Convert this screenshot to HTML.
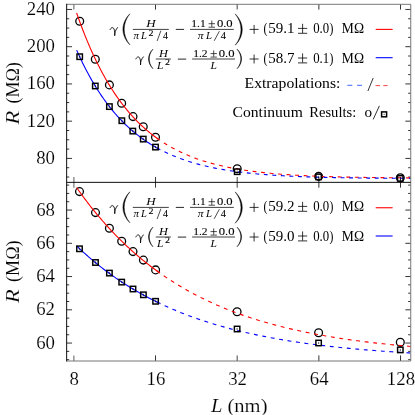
<!DOCTYPE html><html><head><meta charset="utf-8"><title>plot</title><style>html,body{margin:0;padding:0;background:#fff;}svg{display:block;will-change:transform;}text{font-family:"Liberation Serif",serif;fill:#000;stroke:#fff;stroke-width:0.15px;}text[font-size="14.0"]{stroke:none;}text[font-size="9.4"],text[font-size="10.4"]{stroke:none;}text[font-size="9.8"],text[font-size="8.2"]{stroke:#000;stroke-width:0.08px;}.i{font-style:italic;}</style></head><body>
<svg width="415" height="415" viewBox="0 0 415 415">
<rect width="415" height="415" fill="#fff"/>
<g><line x1="66.65" y1="177.03" x2="69.25" y2="177.03" stroke="#000" stroke-width="0.8"/><line x1="410.75" y1="177.03" x2="408.15" y2="177.03" stroke="#000" stroke-width="0.8"/><line x1="66.65" y1="167.72" x2="69.25" y2="167.72" stroke="#000" stroke-width="0.8"/><line x1="410.75" y1="167.72" x2="408.15" y2="167.72" stroke="#000" stroke-width="0.8"/><line x1="66.65" y1="158.41" x2="72.05" y2="158.41" stroke="#000" stroke-width="0.8"/><line x1="410.75" y1="158.41" x2="405.35" y2="158.41" stroke="#000" stroke-width="0.8"/><line x1="66.65" y1="149.10" x2="69.25" y2="149.10" stroke="#000" stroke-width="0.8"/><line x1="410.75" y1="149.10" x2="408.15" y2="149.10" stroke="#000" stroke-width="0.8"/><line x1="66.65" y1="139.79" x2="69.25" y2="139.79" stroke="#000" stroke-width="0.8"/><line x1="410.75" y1="139.79" x2="408.15" y2="139.79" stroke="#000" stroke-width="0.8"/><line x1="66.65" y1="130.48" x2="69.25" y2="130.48" stroke="#000" stroke-width="0.8"/><line x1="410.75" y1="130.48" x2="408.15" y2="130.48" stroke="#000" stroke-width="0.8"/><line x1="66.65" y1="121.17" x2="72.05" y2="121.17" stroke="#000" stroke-width="0.8"/><line x1="410.75" y1="121.17" x2="405.35" y2="121.17" stroke="#000" stroke-width="0.8"/><line x1="66.65" y1="111.86" x2="69.25" y2="111.86" stroke="#000" stroke-width="0.8"/><line x1="410.75" y1="111.86" x2="408.15" y2="111.86" stroke="#000" stroke-width="0.8"/><line x1="66.65" y1="102.55" x2="69.25" y2="102.55" stroke="#000" stroke-width="0.8"/><line x1="410.75" y1="102.55" x2="408.15" y2="102.55" stroke="#000" stroke-width="0.8"/><line x1="66.65" y1="93.24" x2="69.25" y2="93.24" stroke="#000" stroke-width="0.8"/><line x1="410.75" y1="93.24" x2="408.15" y2="93.24" stroke="#000" stroke-width="0.8"/><line x1="66.65" y1="83.93" x2="72.05" y2="83.93" stroke="#000" stroke-width="0.8"/><line x1="410.75" y1="83.93" x2="405.35" y2="83.93" stroke="#000" stroke-width="0.8"/><line x1="66.65" y1="74.62" x2="69.25" y2="74.62" stroke="#000" stroke-width="0.8"/><line x1="410.75" y1="74.62" x2="408.15" y2="74.62" stroke="#000" stroke-width="0.8"/><line x1="66.65" y1="65.31" x2="69.25" y2="65.31" stroke="#000" stroke-width="0.8"/><line x1="410.75" y1="65.31" x2="408.15" y2="65.31" stroke="#000" stroke-width="0.8"/><line x1="66.65" y1="56.00" x2="69.25" y2="56.00" stroke="#000" stroke-width="0.8"/><line x1="410.75" y1="56.00" x2="408.15" y2="56.00" stroke="#000" stroke-width="0.8"/><line x1="66.65" y1="46.69" x2="72.05" y2="46.69" stroke="#000" stroke-width="0.8"/><line x1="410.75" y1="46.69" x2="405.35" y2="46.69" stroke="#000" stroke-width="0.8"/><line x1="66.65" y1="37.38" x2="69.25" y2="37.38" stroke="#000" stroke-width="0.8"/><line x1="410.75" y1="37.38" x2="408.15" y2="37.38" stroke="#000" stroke-width="0.8"/><line x1="66.65" y1="28.07" x2="69.25" y2="28.07" stroke="#000" stroke-width="0.8"/><line x1="410.75" y1="28.07" x2="408.15" y2="28.07" stroke="#000" stroke-width="0.8"/><line x1="66.65" y1="18.76" x2="69.25" y2="18.76" stroke="#000" stroke-width="0.8"/><line x1="410.75" y1="18.76" x2="408.15" y2="18.76" stroke="#000" stroke-width="0.8"/><line x1="66.65" y1="9.45" x2="72.05" y2="9.45" stroke="#000" stroke-width="0.8"/><line x1="410.75" y1="9.45" x2="405.35" y2="9.45" stroke="#000" stroke-width="0.8"/><line x1="66.65" y1="359.68" x2="69.25" y2="359.68" stroke="#000" stroke-width="0.8"/><line x1="410.75" y1="359.68" x2="408.15" y2="359.68" stroke="#000" stroke-width="0.8"/><line x1="66.65" y1="351.36" x2="69.25" y2="351.36" stroke="#000" stroke-width="0.8"/><line x1="410.75" y1="351.36" x2="408.15" y2="351.36" stroke="#000" stroke-width="0.8"/><line x1="66.65" y1="343.05" x2="72.05" y2="343.05" stroke="#000" stroke-width="0.8"/><line x1="410.75" y1="343.05" x2="405.35" y2="343.05" stroke="#000" stroke-width="0.8"/><line x1="66.65" y1="334.74" x2="69.25" y2="334.74" stroke="#000" stroke-width="0.8"/><line x1="410.75" y1="334.74" x2="408.15" y2="334.74" stroke="#000" stroke-width="0.8"/><line x1="66.65" y1="326.43" x2="69.25" y2="326.43" stroke="#000" stroke-width="0.8"/><line x1="410.75" y1="326.43" x2="408.15" y2="326.43" stroke="#000" stroke-width="0.8"/><line x1="66.65" y1="318.11" x2="69.25" y2="318.11" stroke="#000" stroke-width="0.8"/><line x1="410.75" y1="318.11" x2="408.15" y2="318.11" stroke="#000" stroke-width="0.8"/><line x1="66.65" y1="309.80" x2="72.05" y2="309.80" stroke="#000" stroke-width="0.8"/><line x1="410.75" y1="309.80" x2="405.35" y2="309.80" stroke="#000" stroke-width="0.8"/><line x1="66.65" y1="301.49" x2="69.25" y2="301.49" stroke="#000" stroke-width="0.8"/><line x1="410.75" y1="301.49" x2="408.15" y2="301.49" stroke="#000" stroke-width="0.8"/><line x1="66.65" y1="293.18" x2="69.25" y2="293.18" stroke="#000" stroke-width="0.8"/><line x1="410.75" y1="293.18" x2="408.15" y2="293.18" stroke="#000" stroke-width="0.8"/><line x1="66.65" y1="284.86" x2="69.25" y2="284.86" stroke="#000" stroke-width="0.8"/><line x1="410.75" y1="284.86" x2="408.15" y2="284.86" stroke="#000" stroke-width="0.8"/><line x1="66.65" y1="276.55" x2="72.05" y2="276.55" stroke="#000" stroke-width="0.8"/><line x1="410.75" y1="276.55" x2="405.35" y2="276.55" stroke="#000" stroke-width="0.8"/><line x1="66.65" y1="268.24" x2="69.25" y2="268.24" stroke="#000" stroke-width="0.8"/><line x1="410.75" y1="268.24" x2="408.15" y2="268.24" stroke="#000" stroke-width="0.8"/><line x1="66.65" y1="259.93" x2="69.25" y2="259.93" stroke="#000" stroke-width="0.8"/><line x1="410.75" y1="259.93" x2="408.15" y2="259.93" stroke="#000" stroke-width="0.8"/><line x1="66.65" y1="251.61" x2="69.25" y2="251.61" stroke="#000" stroke-width="0.8"/><line x1="410.75" y1="251.61" x2="408.15" y2="251.61" stroke="#000" stroke-width="0.8"/><line x1="66.65" y1="243.30" x2="72.05" y2="243.30" stroke="#000" stroke-width="0.8"/><line x1="410.75" y1="243.30" x2="405.35" y2="243.30" stroke="#000" stroke-width="0.8"/><line x1="66.65" y1="234.99" x2="69.25" y2="234.99" stroke="#000" stroke-width="0.8"/><line x1="410.75" y1="234.99" x2="408.15" y2="234.99" stroke="#000" stroke-width="0.8"/><line x1="66.65" y1="226.68" x2="69.25" y2="226.68" stroke="#000" stroke-width="0.8"/><line x1="410.75" y1="226.68" x2="408.15" y2="226.68" stroke="#000" stroke-width="0.8"/><line x1="66.65" y1="218.36" x2="69.25" y2="218.36" stroke="#000" stroke-width="0.8"/><line x1="410.75" y1="218.36" x2="408.15" y2="218.36" stroke="#000" stroke-width="0.8"/><line x1="66.65" y1="210.05" x2="72.05" y2="210.05" stroke="#000" stroke-width="0.8"/><line x1="410.75" y1="210.05" x2="405.35" y2="210.05" stroke="#000" stroke-width="0.8"/><line x1="66.65" y1="201.74" x2="69.25" y2="201.74" stroke="#000" stroke-width="0.8"/><line x1="410.75" y1="201.74" x2="408.15" y2="201.74" stroke="#000" stroke-width="0.8"/><line x1="66.65" y1="193.43" x2="69.25" y2="193.43" stroke="#000" stroke-width="0.8"/><line x1="410.75" y1="193.43" x2="408.15" y2="193.43" stroke="#000" stroke-width="0.8"/><line x1="66.65" y1="185.11" x2="69.25" y2="185.11" stroke="#000" stroke-width="0.8"/><line x1="410.75" y1="185.11" x2="408.15" y2="185.11" stroke="#000" stroke-width="0.8"/><line x1="73.85" y1="4.30" x2="73.85" y2="9.60" stroke="#999" stroke-width="1.6"/><line x1="73.85" y1="177.05" x2="73.85" y2="187.65" stroke="#999" stroke-width="1.6"/><line x1="73.85" y1="361.00" x2="73.85" y2="355.40" stroke="#999" stroke-width="1.6"/><line x1="155.52" y1="4.30" x2="155.52" y2="9.60" stroke="#000" stroke-width="0.8"/><line x1="155.52" y1="177.05" x2="155.52" y2="187.65" stroke="#000" stroke-width="0.8"/><line x1="155.52" y1="361.00" x2="155.52" y2="355.40" stroke="#000" stroke-width="0.8"/><line x1="237.19" y1="4.30" x2="237.19" y2="9.60" stroke="#555" stroke-width="1.1"/><line x1="237.19" y1="177.05" x2="237.19" y2="187.65" stroke="#555" stroke-width="1.1"/><line x1="237.19" y1="361.00" x2="237.19" y2="355.40" stroke="#555" stroke-width="1.1"/><line x1="318.86" y1="4.30" x2="318.86" y2="9.60" stroke="#000" stroke-width="0.8"/><line x1="318.86" y1="177.05" x2="318.86" y2="187.65" stroke="#000" stroke-width="0.8"/><line x1="318.86" y1="361.00" x2="318.86" y2="355.40" stroke="#000" stroke-width="0.8"/><line x1="400.53" y1="4.30" x2="400.53" y2="9.60" stroke="#000" stroke-width="0.8"/><line x1="400.53" y1="177.05" x2="400.53" y2="187.65" stroke="#000" stroke-width="0.8"/><line x1="400.53" y1="361.00" x2="400.53" y2="355.40" stroke="#000" stroke-width="0.8"/></g>
<clipPath id="ct"><rect x="66.65" y="4.3" width="344.1" height="178.04999999999998"/></clipPath>
<clipPath id="cb"><rect x="66.65" y="182.35" width="344.1" height="178.65"/></clipPath>
<circle cx="79.7" cy="21.3" r="3.9" fill="none" stroke="#000" stroke-width="1.3"/>
<circle cx="95.3" cy="59.2" r="3.9" fill="none" stroke="#000" stroke-width="1.3"/>
<circle cx="109.4" cy="84.9" r="3.9" fill="none" stroke="#000" stroke-width="1.3"/>
<circle cx="121.65" cy="103.2" r="3.9" fill="none" stroke="#000" stroke-width="1.3"/>
<circle cx="133.0" cy="116.6" r="3.9" fill="none" stroke="#000" stroke-width="1.3"/>
<circle cx="143.25" cy="126.8" r="3.9" fill="none" stroke="#000" stroke-width="1.3"/>
<circle cx="155.5" cy="137.3" r="3.9" fill="none" stroke="#000" stroke-width="1.3"/>
<circle cx="237.2" cy="168.8" r="3.9" fill="none" stroke="#000" stroke-width="1.3"/>
<circle cx="318.6" cy="176.4" r="3.9" fill="none" stroke="#000" stroke-width="1.3"/>
<circle cx="400.3" cy="177.8" r="3.9" fill="none" stroke="#000" stroke-width="1.3"/>
<circle cx="79.5" cy="191.6" r="3.9" fill="none" stroke="#000" stroke-width="1.3"/>
<circle cx="95.5" cy="212.6" r="3.9" fill="none" stroke="#000" stroke-width="1.3"/>
<circle cx="109.4" cy="228.3" r="3.9" fill="none" stroke="#000" stroke-width="1.3"/>
<circle cx="121.7" cy="241.3" r="3.9" fill="none" stroke="#000" stroke-width="1.3"/>
<circle cx="133.0" cy="251.6" r="3.9" fill="none" stroke="#000" stroke-width="1.3"/>
<circle cx="143.4" cy="260.1" r="3.9" fill="none" stroke="#000" stroke-width="1.3"/>
<circle cx="155.6" cy="269.9" r="3.9" fill="none" stroke="#000" stroke-width="1.3"/>
<circle cx="237.1" cy="311.7" r="3.9" fill="none" stroke="#000" stroke-width="1.3"/>
<circle cx="318.6" cy="332.8" r="3.9" fill="none" stroke="#000" stroke-width="1.3"/>
<circle cx="400.3" cy="342.3" r="3.9" fill="none" stroke="#000" stroke-width="1.3"/>
<path d="M76.62,12.98 L77.63,15.89 L78.65,18.75 L79.67,21.56 L80.69,24.32 L81.71,27.03 L82.72,29.70 L83.74,32.32 L84.76,34.89 L85.78,37.42 L86.80,39.90 L87.82,42.35 L88.83,44.74 L89.85,47.10 L90.87,49.42 L91.89,51.70 L92.91,53.93 L93.92,56.13 L94.94,58.29 L95.96,60.41 L96.98,62.49 L98.00,64.54 L99.02,66.56 L100.03,68.53 L101.05,70.48 L102.07,72.39 L103.09,74.26 L104.11,76.10 L105.12,77.92 L106.14,79.70 L107.16,81.44 L108.18,83.16 L109.20,84.85 L110.22,86.51 L111.23,88.14 L112.25,89.74 L113.27,91.31 L114.29,92.86 L115.31,94.37 L116.32,95.87 L117.34,97.33 L118.36,98.77 L119.38,100.19 L120.40,101.58 L121.42,102.94 L122.43,104.28 L123.45,105.60 L124.47,106.90 L125.49,108.17 L126.51,109.42 L127.52,110.65 L128.54,111.86 L129.56,113.04 L130.58,114.21 L131.60,115.35 L132.62,116.48 L133.63,117.58 L134.65,118.67 L135.67,119.73 L136.69,120.78 L137.71,121.81 L138.72,122.82 L139.74,123.81 L140.76,124.79 L141.78,125.75 L142.80,126.69 L143.82,127.62 L144.83,128.53 L145.85,129.42 L146.87,130.30 L147.89,131.16 L148.91,132.00 L149.92,132.84 L150.94,133.65 L151.96,134.46 L152.98,135.24 L154.00,136.02 L155.02,136.78 L156.03,137.53 L157.05,138.26 L158.07,138.98" fill="none" stroke="#ff0000" stroke-width="1.1" clip-path="url(#ct)"/>
<path d="M155.52,137.15 L157.65,138.69 L159.77,140.16 L161.90,141.59 L164.03,142.96 L166.15,144.28 L168.28,145.55 L170.41,146.78 L172.54,147.96 L174.66,149.10 L176.79,150.19 L178.92,151.25 L181.04,152.27 L183.17,153.25 L185.30,154.19 L187.42,155.10 L189.55,155.98 L191.68,156.82 L193.80,157.63 L195.93,158.41 L198.06,159.17 L200.19,159.89 L202.31,160.59 L204.44,161.27 L206.57,161.91 L208.69,162.54 L210.82,163.14 L212.95,163.72 L215.07,164.27 L217.20,164.81 L219.33,165.33 L221.45,165.82 L223.58,166.30 L225.71,166.76 L227.84,167.20 L229.96,167.63 L232.09,168.04 L234.22,168.44 L236.34,168.82 L238.47,169.18 L240.60,169.54 L242.72,169.87 L244.85,170.20 L246.98,170.51 L249.10,170.82 L251.23,171.11 L253.36,171.39 L255.49,171.66 L257.61,171.91 L259.74,172.16 L261.87,172.40 L263.99,172.63 L266.12,172.85 L268.25,173.07 L270.37,173.27 L272.50,173.47 L274.63,173.66 L276.75,173.84 L278.88,174.01 L281.01,174.18 L283.13,174.34 L285.26,174.50 L287.39,174.65 L289.52,174.79 L291.64,174.93 L293.77,175.06 L295.90,175.19 L298.02,175.31 L300.15,175.43 L302.28,175.54 L304.40,175.65 L306.53,175.75 L308.66,175.85 L310.78,175.95 L312.91,176.04 L315.04,176.13 L317.17,176.21 L319.29,176.30 L321.42,176.37 L323.55,176.45 L325.67,176.52 L327.80,176.59 L329.93,176.66 L332.05,176.72 L334.18,176.78 L336.31,176.84 L338.43,176.89 L340.56,176.95 L342.69,177.00 L344.82,177.05 L346.94,177.09 L349.07,177.14 L351.20,177.18 L353.32,177.22 L355.45,177.26 L357.58,177.30 L359.70,177.34 L361.83,177.37 L363.96,177.41 L366.08,177.44 L368.21,177.47 L370.34,177.50 L372.47,177.52 L374.59,177.55 L376.72,177.58 L378.85,177.60 L380.97,177.62 L383.10,177.64 L385.23,177.67 L387.35,177.69 L389.48,177.70 L391.61,177.72 L393.73,177.74 L395.86,177.76 L397.99,177.77 L400.12,177.79 L402.24,177.80 L404.37,177.81 L406.50,177.83 L408.62,177.84 L410.75,177.85" fill="none" stroke="#ff0000" stroke-width="1.1" stroke-dasharray="3.9 4.64" stroke-dashoffset="-1.6" clip-path="url(#ct)"/>
<path d="M76.62,50.11 L77.63,52.39 L78.65,54.63 L79.67,56.83 L80.69,58.99 L81.71,61.11 L82.72,63.20 L83.74,65.25 L84.76,67.26 L85.78,69.24 L86.80,71.18 L87.82,73.09 L88.83,74.97 L89.85,76.81 L90.87,78.63 L91.89,80.41 L92.91,82.15 L93.92,83.87 L94.94,85.56 L95.96,87.22 L96.98,88.85 L98.00,90.45 L99.02,92.02 L100.03,93.57 L101.05,95.09 L102.07,96.58 L103.09,98.04 L104.11,99.48 L105.12,100.90 L106.14,102.29 L107.16,103.66 L108.18,105.00 L109.20,106.31 L110.22,107.61 L111.23,108.88 L112.25,110.13 L113.27,111.36 L114.29,112.57 L115.31,113.75 L116.32,114.92 L117.34,116.06 L118.36,117.18 L119.38,118.29 L120.40,119.37 L121.42,120.44 L122.43,121.48 L123.45,122.51 L124.47,123.52 L125.49,124.52 L126.51,125.49 L127.52,126.45 L128.54,127.39 L129.56,128.31 L130.58,129.22 L131.60,130.11 L132.62,130.99 L133.63,131.85 L134.65,132.70 L135.67,133.53 L136.69,134.34 L137.71,135.15 L138.72,135.93 L139.74,136.71 L140.76,137.47 L141.78,138.21 L142.80,138.95 L143.82,139.67 L144.83,140.37 L145.85,141.07 L146.87,141.75 L147.89,142.42 L148.91,143.08 L149.92,143.73 L150.94,144.36 L151.96,144.99 L152.98,145.60 L154.00,146.20 L155.02,146.80 L156.03,147.38 L157.05,147.95 L158.07,148.51" fill="none" stroke="#0000ff" stroke-width="1.1" clip-path="url(#ct)"/>
<path d="M155.52,147.09 L157.65,148.28 L159.77,149.43 L161.90,150.53 L164.03,151.60 L166.15,152.62 L168.28,153.61 L170.41,154.56 L172.54,155.48 L174.66,156.36 L176.79,157.21 L178.92,158.03 L181.04,158.82 L183.17,159.57 L185.30,160.31 L187.42,161.01 L189.55,161.69 L191.68,162.34 L193.80,162.97 L195.93,163.57 L198.06,164.15 L200.19,164.71 L202.31,165.25 L204.44,165.77 L206.57,166.27 L208.69,166.75 L210.82,167.21 L212.95,167.66 L215.07,168.09 L217.20,168.50 L219.33,168.90 L221.45,169.28 L223.58,169.65 L225.71,170.00 L227.84,170.34 L229.96,170.67 L232.09,170.98 L234.22,171.29 L236.34,171.58 L238.47,171.86 L240.60,172.13 L242.72,172.38 L244.85,172.63 L246.98,172.87 L249.10,173.10 L251.23,173.33 L253.36,173.54 L255.49,173.74 L257.61,173.94 L259.74,174.13 L261.87,174.31 L263.99,174.48 L266.12,174.65 L268.25,174.81 L270.37,174.97 L272.50,175.12 L274.63,175.26 L276.75,175.40 L278.88,175.53 L281.01,175.66 L283.13,175.78 L285.26,175.89 L287.39,176.01 L289.52,176.11 L291.64,176.22 L293.77,176.32 L295.90,176.41 L298.02,176.50 L300.15,176.59 L302.28,176.67 L304.40,176.76 L306.53,176.83 L308.66,176.91 L310.78,176.98 L312.91,177.05 L315.04,177.11 L317.17,177.17 L319.29,177.23 L321.42,177.29 L323.55,177.35 L325.67,177.40 L327.80,177.45 L329.93,177.50 L332.05,177.54 L334.18,177.59 L336.31,177.63 L338.43,177.67 L340.56,177.71 L342.69,177.75 L344.82,177.78 L346.94,177.81 L349.07,177.85 L351.20,177.88 L353.32,177.91 L355.45,177.93 L357.58,177.96 L359.70,177.99 L361.83,178.01 L363.96,178.03 L366.08,178.06 L368.21,178.08 L370.34,178.10 L372.47,178.12 L374.59,178.14 L376.72,178.15 L378.85,178.17 L380.97,178.18 L383.10,178.20 L385.23,178.21 L387.35,178.23 L389.48,178.24 L391.61,178.25 L393.73,178.26 L395.86,178.27 L397.99,178.28 L400.12,178.29 L402.24,178.30 L404.37,178.31 L406.50,178.32 L408.62,178.33 L410.75,178.33" fill="none" stroke="#0000ff" stroke-width="1.1" stroke-dasharray="3.9 4.64" stroke-dashoffset="-1.6" clip-path="url(#ct)"/>
<path d="M76.62,187.57 L77.63,189.02 L78.65,190.46 L79.67,191.89 L80.69,193.30 L81.71,194.70 L82.72,196.09 L83.74,197.47 L84.76,198.84 L85.78,200.19 L86.80,201.53 L87.82,202.86 L88.83,204.18 L89.85,205.49 L90.87,206.79 L91.89,208.07 L92.91,209.35 L93.92,210.61 L94.94,211.87 L95.96,213.11 L96.98,214.34 L98.00,215.56 L99.02,216.77 L100.03,217.97 L101.05,219.16 L102.07,220.34 L103.09,221.51 L104.11,222.67 L105.12,223.82 L106.14,224.96 L107.16,226.09 L108.18,227.21 L109.20,228.32 L110.22,229.42 L111.23,230.51 L112.25,231.60 L113.27,232.67 L114.29,233.73 L115.31,234.79 L116.32,235.83 L117.34,236.87 L118.36,237.90 L119.38,238.91 L120.40,239.92 L121.42,240.93 L122.43,241.92 L123.45,242.90 L124.47,243.88 L125.49,244.85 L126.51,245.80 L127.52,246.75 L128.54,247.70 L129.56,248.63 L130.58,249.56 L131.60,250.48 L132.62,251.39 L133.63,252.29 L134.65,253.18 L135.67,254.07 L136.69,254.95 L137.71,255.82 L138.72,256.69 L139.74,257.55 L140.76,258.39 L141.78,259.24 L142.80,260.07 L143.82,260.90 L144.83,261.72 L145.85,262.54 L146.87,263.34 L147.89,264.14 L148.91,264.94 L149.92,265.72 L150.94,266.50 L151.96,267.27 L152.98,268.04 L154.00,268.80 L155.02,269.55 L156.03,270.30 L157.05,271.04 L158.07,271.77" fill="none" stroke="#ff0000" stroke-width="1.1" clip-path="url(#cb)"/>
<path d="M155.52,269.92 L157.65,271.47 L159.77,272.99 L161.90,274.48 L164.03,275.94 L166.15,277.38 L168.28,278.79 L170.41,280.18 L172.54,281.54 L174.66,282.88 L176.79,284.19 L178.92,285.48 L181.04,286.75 L183.17,288.00 L185.30,289.22 L187.42,290.42 L189.55,291.60 L191.68,292.76 L193.80,293.89 L195.93,295.01 L198.06,296.11 L200.19,297.18 L202.31,298.24 L204.44,299.28 L206.57,300.30 L208.69,301.31 L210.82,302.29 L212.95,303.26 L215.07,304.21 L217.20,305.14 L219.33,306.05 L221.45,306.95 L223.58,307.84 L225.71,308.71 L227.84,309.56 L229.96,310.39 L232.09,311.22 L234.22,312.02 L236.34,312.82 L238.47,313.60 L240.60,314.36 L242.72,315.11 L244.85,315.85 L246.98,316.57 L249.10,317.28 L251.23,317.98 L253.36,318.67 L255.49,319.34 L257.61,320.01 L259.74,320.66 L261.87,321.29 L263.99,321.92 L266.12,322.54 L268.25,323.14 L270.37,323.74 L272.50,324.32 L274.63,324.89 L276.75,325.45 L278.88,326.01 L281.01,326.55 L283.13,327.08 L285.26,327.61 L287.39,328.12 L289.52,328.63 L291.64,329.12 L293.77,329.61 L295.90,330.09 L298.02,330.56 L300.15,331.02 L302.28,331.47 L304.40,331.92 L306.53,332.35 L308.66,332.78 L310.78,333.20 L312.91,333.62 L315.04,334.02 L317.17,334.42 L319.29,334.82 L321.42,335.20 L323.55,335.58 L325.67,335.95 L327.80,336.32 L329.93,336.67 L332.05,337.03 L334.18,337.37 L336.31,337.71 L338.43,338.04 L340.56,338.37 L342.69,338.69 L344.82,339.01 L346.94,339.32 L349.07,339.62 L351.20,339.92 L353.32,340.22 L355.45,340.51 L357.58,340.79 L359.70,341.07 L361.83,341.34 L363.96,341.61 L366.08,341.87 L368.21,342.13 L370.34,342.39 L372.47,342.64 L374.59,342.88 L376.72,343.12 L378.85,343.36 L380.97,343.59 L383.10,343.82 L385.23,344.04 L387.35,344.26 L389.48,344.48 L391.61,344.69 L393.73,344.90 L395.86,345.11 L397.99,345.31 L400.12,345.50 L402.24,345.70 L404.37,345.89 L406.50,346.08 L408.62,346.26 L410.75,346.44" fill="none" stroke="#ff0000" stroke-width="1.1" stroke-dasharray="3.9 4.64" stroke-dashoffset="-1.6" clip-path="url(#cb)"/>
<path d="M76.62,245.90 L77.63,246.87 L78.65,247.84 L79.67,248.79 L80.69,249.74 L81.71,250.68 L82.72,251.62 L83.74,252.54 L84.76,253.46 L85.78,254.37 L86.80,255.27 L87.82,256.17 L88.83,257.05 L89.85,257.93 L90.87,258.81 L91.89,259.67 L92.91,260.53 L93.92,261.38 L94.94,262.22 L95.96,263.05 L96.98,263.88 L98.00,264.70 L99.02,265.52 L100.03,266.32 L101.05,267.12 L102.07,267.92 L103.09,268.70 L104.11,269.48 L105.12,270.26 L106.14,271.02 L107.16,271.78 L108.18,272.54 L109.20,273.28 L110.22,274.02 L111.23,274.76 L112.25,275.49 L113.27,276.21 L114.29,276.92 L115.31,277.63 L116.32,278.34 L117.34,279.03 L118.36,279.73 L119.38,280.41 L120.40,281.09 L121.42,281.76 L122.43,282.43 L123.45,283.10 L124.47,283.75 L125.49,284.40 L126.51,285.05 L127.52,285.69 L128.54,286.32 L129.56,286.95 L130.58,287.58 L131.60,288.20 L132.62,288.81 L133.63,289.42 L134.65,290.02 L135.67,290.62 L136.69,291.21 L137.71,291.80 L138.72,292.38 L139.74,292.96 L140.76,293.53 L141.78,294.10 L142.80,294.66 L143.82,295.22 L144.83,295.77 L145.85,296.32 L146.87,296.86 L147.89,297.40 L148.91,297.94 L149.92,298.47 L150.94,298.99 L151.96,299.51 L152.98,300.03 L154.00,300.54 L155.02,301.05 L156.03,301.55 L157.05,302.05 L158.07,302.54" fill="none" stroke="#0000ff" stroke-width="1.1" clip-path="url(#cb)"/>
<path d="M155.52,301.30 L157.65,302.34 L159.77,303.36 L161.90,304.37 L164.03,305.36 L166.15,306.32 L168.28,307.28 L170.41,308.21 L172.54,309.13 L174.66,310.03 L176.79,310.92 L178.92,311.79 L181.04,312.65 L183.17,313.48 L185.30,314.31 L187.42,315.12 L189.55,315.92 L191.68,316.70 L193.80,317.46 L195.93,318.22 L198.06,318.96 L200.19,319.69 L202.31,320.40 L204.44,321.10 L206.57,321.79 L208.69,322.47 L210.82,323.13 L212.95,323.78 L215.07,324.43 L217.20,325.06 L219.33,325.67 L221.45,326.28 L223.58,326.88 L225.71,327.46 L227.84,328.04 L229.96,328.60 L232.09,329.16 L234.22,329.70 L236.34,330.24 L238.47,330.77 L240.60,331.28 L242.72,331.79 L244.85,332.29 L246.98,332.78 L249.10,333.26 L251.23,333.73 L253.36,334.19 L255.49,334.65 L257.61,335.10 L259.74,335.54 L261.87,335.97 L263.99,336.39 L266.12,336.81 L268.25,337.22 L270.37,337.62 L272.50,338.01 L274.63,338.40 L276.75,338.78 L278.88,339.15 L281.01,339.52 L283.13,339.88 L285.26,340.23 L287.39,340.58 L289.52,340.92 L291.64,341.26 L293.77,341.59 L295.90,341.91 L298.02,342.23 L300.15,342.54 L302.28,342.85 L304.40,343.15 L306.53,343.44 L308.66,343.73 L310.78,344.02 L312.91,344.30 L315.04,344.57 L317.17,344.84 L319.29,345.11 L321.42,345.37 L323.55,345.62 L325.67,345.87 L327.80,346.12 L329.93,346.36 L332.05,346.60 L334.18,346.84 L336.31,347.07 L338.43,347.29 L340.56,347.51 L342.69,347.73 L344.82,347.94 L346.94,348.15 L349.07,348.36 L351.20,348.56 L353.32,348.76 L355.45,348.96 L357.58,349.15 L359.70,349.34 L361.83,349.52 L363.96,349.70 L366.08,349.88 L368.21,350.06 L370.34,350.23 L372.47,350.40 L374.59,350.56 L376.72,350.73 L378.85,350.89 L380.97,351.04 L383.10,351.20 L385.23,351.35 L387.35,351.50 L389.48,351.64 L391.61,351.79 L393.73,351.93 L395.86,352.07 L397.99,352.20 L400.12,352.34 L402.24,352.47 L404.37,352.60 L406.50,352.72 L408.62,352.85 L410.75,352.97" fill="none" stroke="#0000ff" stroke-width="1.1" stroke-dasharray="3.9 4.64" stroke-dashoffset="-1.6" clip-path="url(#cb)"/>
<rect x="76.98" y="53.98" width="5.44" height="5.44" fill="none" stroke="#000" stroke-width="1.45"/>
<rect x="79.10" y="55.60" width="1.2" height="2.2" fill="#000" fill-opacity="0.55"/>
<rect x="92.58" y="83.28" width="5.44" height="5.44" fill="none" stroke="#000" stroke-width="1.45"/>
<rect x="94.70" y="84.90" width="1.2" height="2.2" fill="#000" fill-opacity="0.55"/>
<rect x="106.68" y="103.88" width="5.44" height="5.44" fill="none" stroke="#000" stroke-width="1.45"/>
<rect x="108.80" y="105.50" width="1.2" height="2.2" fill="#000" fill-opacity="0.55"/>
<rect x="119.13" y="117.98" width="5.44" height="5.44" fill="none" stroke="#000" stroke-width="1.45"/>
<rect x="121.25" y="119.60" width="1.2" height="2.2" fill="#000" fill-opacity="0.55"/>
<rect x="130.08" y="128.38" width="5.44" height="5.44" fill="none" stroke="#000" stroke-width="1.45"/>
<rect x="132.20" y="130.00" width="1.2" height="2.2" fill="#000" fill-opacity="0.55"/>
<rect x="140.53" y="136.38" width="5.44" height="5.44" fill="none" stroke="#000" stroke-width="1.45"/>
<rect x="142.65" y="138.00" width="1.2" height="2.2" fill="#000" fill-opacity="0.55"/>
<rect x="152.78" y="144.38" width="5.44" height="5.44" fill="none" stroke="#000" stroke-width="1.45"/>
<rect x="154.90" y="146.00" width="1.2" height="2.2" fill="#000" fill-opacity="0.55"/>
<rect x="234.48" y="168.98" width="5.44" height="5.44" fill="none" stroke="#000" stroke-width="1.45"/>
<rect x="236.60" y="170.60" width="1.2" height="2.2" fill="#000" fill-opacity="0.55"/>
<rect x="315.88" y="174.18" width="5.44" height="5.44" fill="none" stroke="#000" stroke-width="1.45"/>
<rect x="318.00" y="175.80" width="1.2" height="2.2" fill="#000" fill-opacity="0.55"/>
<rect x="397.58" y="175.68" width="5.44" height="5.44" fill="none" stroke="#000" stroke-width="1.45"/>
<rect x="399.70" y="177.30" width="1.2" height="2.2" fill="#000" fill-opacity="0.55"/>
<rect x="76.78" y="246.08" width="5.44" height="5.44" fill="none" stroke="#000" stroke-width="1.45"/>
<rect x="78.90" y="247.70" width="1.2" height="2.2" fill="#000" fill-opacity="0.55"/>
<rect x="92.78" y="259.78" width="5.44" height="5.44" fill="none" stroke="#000" stroke-width="1.45"/>
<rect x="94.90" y="261.40" width="1.2" height="2.2" fill="#000" fill-opacity="0.55"/>
<rect x="106.68" y="270.38" width="5.44" height="5.44" fill="none" stroke="#000" stroke-width="1.45"/>
<rect x="108.80" y="272.00" width="1.2" height="2.2" fill="#000" fill-opacity="0.55"/>
<rect x="118.98" y="279.38" width="5.44" height="5.44" fill="none" stroke="#000" stroke-width="1.45"/>
<rect x="121.10" y="281.00" width="1.2" height="2.2" fill="#000" fill-opacity="0.55"/>
<rect x="130.28" y="286.28" width="5.44" height="5.44" fill="none" stroke="#000" stroke-width="1.45"/>
<rect x="132.40" y="287.90" width="1.2" height="2.2" fill="#000" fill-opacity="0.55"/>
<rect x="140.68" y="292.08" width="5.44" height="5.44" fill="none" stroke="#000" stroke-width="1.45"/>
<rect x="142.80" y="293.70" width="1.2" height="2.2" fill="#000" fill-opacity="0.55"/>
<rect x="152.88" y="298.58" width="5.44" height="5.44" fill="none" stroke="#000" stroke-width="1.45"/>
<rect x="155.00" y="300.20" width="1.2" height="2.2" fill="#000" fill-opacity="0.55"/>
<rect x="234.38" y="326.28" width="5.44" height="5.44" fill="none" stroke="#000" stroke-width="1.45"/>
<rect x="236.50" y="327.90" width="1.2" height="2.2" fill="#000" fill-opacity="0.55"/>
<rect x="315.88" y="340.28" width="5.44" height="5.44" fill="none" stroke="#000" stroke-width="1.45"/>
<rect x="318.00" y="341.90" width="1.2" height="2.2" fill="#000" fill-opacity="0.55"/>
<rect x="397.58" y="347.18" width="5.44" height="5.44" fill="none" stroke="#000" stroke-width="1.45"/>
<rect x="399.70" y="348.80" width="1.2" height="2.2" fill="#000" fill-opacity="0.55"/>
<path d="M66.65,4.3 H410.75 V361.0 H66.65" fill="none" stroke="#777" stroke-width="1"/>
<path d="M66.65,3.8 V361.5" fill="none" stroke="#000" stroke-width="0.95"/>
<path d="M66.65,182.35 H410.75" fill="none" stroke="#000" stroke-width="0.95"/>
<text x="55.00" y="14.95" font-size="19.8" text-anchor="end" textLength="28.2" lengthAdjust="spacingAndGlyphs">240</text>
<text x="55.00" y="52.19" font-size="19.8" text-anchor="end" textLength="28.2" lengthAdjust="spacingAndGlyphs">200</text>
<text x="55.00" y="89.43" font-size="19.8" text-anchor="end" textLength="28.2" lengthAdjust="spacingAndGlyphs">160</text>
<text x="55.00" y="126.67" font-size="19.8" text-anchor="end" textLength="28.2" lengthAdjust="spacingAndGlyphs">120</text>
<text x="55.00" y="163.91" font-size="19.8" text-anchor="end" textLength="18.8" lengthAdjust="spacingAndGlyphs">80</text>
<text x="55.00" y="215.55" font-size="19.8" text-anchor="end" textLength="18.8" lengthAdjust="spacingAndGlyphs">68</text>
<text x="55.00" y="248.80" font-size="19.8" text-anchor="end" textLength="18.8" lengthAdjust="spacingAndGlyphs">66</text>
<text x="55.00" y="282.05" font-size="19.8" text-anchor="end" textLength="18.8" lengthAdjust="spacingAndGlyphs">64</text>
<text x="55.00" y="315.30" font-size="19.8" text-anchor="end" textLength="18.8" lengthAdjust="spacingAndGlyphs">62</text>
<text x="55.00" y="348.55" font-size="19.8" text-anchor="end" textLength="18.8" lengthAdjust="spacingAndGlyphs">60</text>
<text x="74.25" y="384.60" font-size="19.8" text-anchor="middle" textLength="9.4" lengthAdjust="spacingAndGlyphs">8</text>
<text x="155.92" y="384.60" font-size="19.8" text-anchor="middle" textLength="18.8" lengthAdjust="spacingAndGlyphs">16</text>
<text x="237.59" y="384.60" font-size="19.8" text-anchor="middle" textLength="18.8" lengthAdjust="spacingAndGlyphs">32</text>
<text x="319.26" y="384.60" font-size="19.8" text-anchor="middle" textLength="18.8" lengthAdjust="spacingAndGlyphs">64</text>
<text x="400.93" y="384.60" font-size="19.8" text-anchor="middle" textLength="28.2" lengthAdjust="spacingAndGlyphs">128</text>
<text x="210.9" y="412.2" font-size="19.8" textLength="56.6" lengthAdjust="spacingAndGlyphs"><tspan class="i">L</tspan> (nm)</text>
<text transform="translate(18.5,124.62) rotate(-90)" font-size="19.6" textLength="13.6" lengthAdjust="spacingAndGlyphs" class="i">R</text>
<text transform="translate(18.5,103.53) rotate(-90)" font-size="19.6" textLength="41.4" lengthAdjust="spacingAndGlyphs">(MΩ)</text>
<text transform="translate(18.5,302.98) rotate(-90)" font-size="19.6" textLength="13.6" lengthAdjust="spacingAndGlyphs" class="i">R</text>
<text transform="translate(18.5,281.88) rotate(-90)" font-size="19.6" textLength="41.4" lengthAdjust="spacingAndGlyphs">(MΩ)</text>
<path transform="translate(110.10,33.20) scale(1.0)" d="M0.0,-3.6 C0.8,-5.6 2.9,-6.6 3.9,-4.2 C4.7,-2.2 4.9,0.3 4.6,2.5 C4.5,0.8 4.7,-0.5 5.2,-1.8 C5.9,-3.4 6.6,-4.7 7.4,-5.6" fill="none" stroke="#000" stroke-width="0.9" stroke-linecap="round" stroke-linejoin="round"/>
<path d="M129.9,13.8 C120.57,23.10 120.57,35.50 129.9,44.8 C122.30,35.50 122.30,23.10 129.9,13.8 Z" fill="#000" stroke="#000" stroke-width="0.45" stroke-linejoin="round"/>
<line x1="132.80" y1="29.40" x2="168.80" y2="29.40" stroke="#000" stroke-width="0.75"/>
<text x="146.20" y="27.10" font-size="10.4" textLength="9.4" lengthAdjust="spacingAndGlyphs" class="i">H</text>
<text x="133.50" y="38.50" font-size="10.4" textLength="5.4" lengthAdjust="spacingAndGlyphs" class="i">π</text>
<text x="141.00" y="38.60" font-size="10.4" textLength="5.9" lengthAdjust="spacingAndGlyphs" class="i">L</text>
<text x="148.60" y="35.70" font-size="8.2" textLength="5.0" lengthAdjust="spacingAndGlyphs">2</text>
<line x1="157.1" y1="41.0" x2="160.9" y2="30.7" stroke="#000" stroke-width="0.7"/>
<text x="162.90" y="38.50" font-size="9.8" textLength="5.0" lengthAdjust="spacingAndGlyphs">4</text>
<line x1="175.80" y1="29.40" x2="184.00" y2="29.40" stroke="#000" stroke-width="0.85"/>
<line x1="190.00" y1="29.40" x2="233.80" y2="29.40" stroke="#000" stroke-width="0.75"/>
<text x="191.30" y="27.10" font-size="9.8" textLength="14.4" lengthAdjust="spacingAndGlyphs">1.1</text>
<path d="M208.60,23.70 H215.00 M211.80,20.50 V26.90 M208.60,27.20 H215.00" stroke="#000" stroke-width="0.7" fill="none"/>
<text x="216.90" y="27.10" font-size="9.8" textLength="15.8" lengthAdjust="spacingAndGlyphs">0.0</text>
<text x="197.70" y="38.50" font-size="10.4" textLength="5.8" lengthAdjust="spacingAndGlyphs" class="i">π</text>
<text x="206.00" y="38.60" font-size="10.4" textLength="6.0" lengthAdjust="spacingAndGlyphs" class="i">L</text>
<line x1="214.2" y1="40.8" x2="219.4" y2="31.2" stroke="#000" stroke-width="0.7"/>
<text x="220.80" y="38.50" font-size="9.8" textLength="5.2" lengthAdjust="spacingAndGlyphs">4</text>
<path d="M235.2,13.9 C244.67,23.29 244.67,35.81 235.2,45.2 C242.93,35.81 242.93,23.29 235.2,13.9 Z" fill="#000" stroke="#000" stroke-width="0.45" stroke-linejoin="round"/>
<path d="M249.60,29.40 H258.60 M254.10,24.90 V33.90" stroke="#000" stroke-width="0.8" fill="none"/>
<text x="263.60" y="33.30" font-size="14.0" textLength="3.9" lengthAdjust="spacingAndGlyphs">(</text>
<text x="268.20" y="33.30" font-size="14.0" textLength="26.3" lengthAdjust="spacingAndGlyphs">59.1</text>
<path d="M298.00,28.40 H307.20 M302.60,23.80 V33.00 M298.00,33.30 H307.20" stroke="#000" stroke-width="0.8" fill="none"/>
<text x="313.20" y="33.30" font-size="14.0" textLength="16.0" lengthAdjust="spacingAndGlyphs">0.0</text>
<text x="329.60" y="33.30" font-size="14.0" textLength="3.9" lengthAdjust="spacingAndGlyphs">)</text>
<text x="341.80" y="33.30" font-size="14.0" textLength="22.2" lengthAdjust="spacingAndGlyphs">MΩ</text>
<line x1="375.70" y1="29.40" x2="392.60" y2="29.40" stroke="#ff0000" stroke-width="1.1"/>
<path transform="translate(135.90,62.50) scale(1.0)" d="M0.0,-3.6 C0.8,-5.6 2.9,-6.6 3.9,-4.2 C4.7,-2.2 4.9,0.3 4.6,2.5 C4.5,0.8 4.7,-0.5 5.2,-1.8 C5.9,-3.4 6.6,-4.7 7.4,-5.6" fill="none" stroke="#000" stroke-width="0.9" stroke-linecap="round" stroke-linejoin="round"/>
<path d="M153.0,49.1 C147.00,55.01 147.00,62.89 153.0,68.8 C148.00,62.89 148.00,55.01 153.0,49.1 Z" fill="#000" stroke="#000" stroke-width="0.45" stroke-linejoin="round"/>
<line x1="155.80" y1="59.00" x2="170.90" y2="59.00" stroke="#000" stroke-width="0.75"/>
<text x="159.00" y="57.00" font-size="10.4" textLength="8.9" lengthAdjust="spacingAndGlyphs" class="i">H</text>
<text x="156.90" y="68.50" font-size="10.4" textLength="6.4" lengthAdjust="spacingAndGlyphs" class="i">L</text>
<text x="164.90" y="65.40" font-size="8.2" textLength="5.0" lengthAdjust="spacingAndGlyphs">2</text>
<line x1="177.80" y1="59.10" x2="186.20" y2="59.10" stroke="#000" stroke-width="0.85"/>
<line x1="192.10" y1="59.00" x2="235.00" y2="59.00" stroke="#000" stroke-width="0.75"/>
<text x="193.20" y="57.00" font-size="9.8" textLength="14.4" lengthAdjust="spacingAndGlyphs">1.2</text>
<path d="M210.50,53.60 H216.90 M213.70,50.40 V56.80 M210.50,57.10 H216.90" stroke="#000" stroke-width="0.7" fill="none"/>
<text x="218.80" y="57.00" font-size="9.8" textLength="15.8" lengthAdjust="spacingAndGlyphs">0.0</text>
<text x="210.60" y="68.50" font-size="10.4" textLength="6.4" lengthAdjust="spacingAndGlyphs" class="i">L</text>
<path d="M237.0,49.1 C243.13,55.01 243.13,62.89 237.0,68.8 C242.13,62.89 242.13,55.01 237.0,49.1 Z" fill="#000" stroke="#000" stroke-width="0.45" stroke-linejoin="round"/>
<path d="M249.60,59.00 H258.60 M254.10,54.50 V63.50" stroke="#000" stroke-width="0.8" fill="none"/>
<text x="263.60" y="63.00" font-size="14.0" textLength="3.9" lengthAdjust="spacingAndGlyphs">(</text>
<text x="268.20" y="63.00" font-size="14.0" textLength="26.3" lengthAdjust="spacingAndGlyphs">58.7</text>
<path d="M298.00,58.00 H307.20 M302.60,53.40 V62.60 M298.00,62.90 H307.20" stroke="#000" stroke-width="0.8" fill="none"/>
<text x="313.20" y="63.00" font-size="14.0" textLength="16.0" lengthAdjust="spacingAndGlyphs">0.1</text>
<text x="329.60" y="63.00" font-size="14.0" textLength="3.9" lengthAdjust="spacingAndGlyphs">)</text>
<text x="341.80" y="63.00" font-size="14.0" textLength="22.2" lengthAdjust="spacingAndGlyphs">MΩ</text>
<line x1="375.70" y1="57.70" x2="392.60" y2="57.70" stroke="#0000ff" stroke-width="1.1"/>
<path transform="translate(110.10,211.20) scale(1.0)" d="M0.0,-3.6 C0.8,-5.6 2.9,-6.6 3.9,-4.2 C4.7,-2.2 4.9,0.3 4.6,2.5 C4.5,0.8 4.7,-0.5 5.2,-1.8 C5.9,-3.4 6.6,-4.7 7.4,-5.6" fill="none" stroke="#000" stroke-width="0.9" stroke-linecap="round" stroke-linejoin="round"/>
<path d="M129.9,191.8 C120.57,201.10 120.57,213.50 129.9,222.8 C122.30,213.50 122.30,201.10 129.9,191.8 Z" fill="#000" stroke="#000" stroke-width="0.45" stroke-linejoin="round"/>
<line x1="132.80" y1="207.40" x2="168.80" y2="207.40" stroke="#000" stroke-width="0.75"/>
<text x="146.20" y="205.10" font-size="10.4" textLength="9.4" lengthAdjust="spacingAndGlyphs" class="i">H</text>
<text x="133.50" y="216.50" font-size="10.4" textLength="5.4" lengthAdjust="spacingAndGlyphs" class="i">π</text>
<text x="141.00" y="216.60" font-size="10.4" textLength="5.9" lengthAdjust="spacingAndGlyphs" class="i">L</text>
<text x="148.60" y="213.70" font-size="8.2" textLength="5.0" lengthAdjust="spacingAndGlyphs">2</text>
<line x1="157.1" y1="219.0" x2="160.9" y2="208.7" stroke="#000" stroke-width="0.7"/>
<text x="162.90" y="216.50" font-size="9.8" textLength="5.0" lengthAdjust="spacingAndGlyphs">4</text>
<line x1="175.80" y1="207.40" x2="184.00" y2="207.40" stroke="#000" stroke-width="0.85"/>
<line x1="190.00" y1="207.40" x2="233.80" y2="207.40" stroke="#000" stroke-width="0.75"/>
<text x="191.30" y="205.10" font-size="9.8" textLength="14.4" lengthAdjust="spacingAndGlyphs">1.1</text>
<path d="M208.60,201.70 H215.00 M211.80,198.50 V204.90 M208.60,205.20 H215.00" stroke="#000" stroke-width="0.7" fill="none"/>
<text x="216.90" y="205.10" font-size="9.8" textLength="15.8" lengthAdjust="spacingAndGlyphs">0.0</text>
<text x="197.70" y="216.50" font-size="10.4" textLength="5.8" lengthAdjust="spacingAndGlyphs" class="i">π</text>
<text x="206.00" y="216.60" font-size="10.4" textLength="6.0" lengthAdjust="spacingAndGlyphs" class="i">L</text>
<line x1="214.2" y1="218.8" x2="219.4" y2="209.2" stroke="#000" stroke-width="0.7"/>
<text x="220.80" y="216.50" font-size="9.8" textLength="5.2" lengthAdjust="spacingAndGlyphs">4</text>
<path d="M235.2,191.9 C244.67,201.29 244.67,213.81 235.2,223.2 C242.93,213.81 242.93,201.29 235.2,191.9 Z" fill="#000" stroke="#000" stroke-width="0.45" stroke-linejoin="round"/>
<path d="M249.60,207.40 H258.60 M254.10,202.90 V211.90" stroke="#000" stroke-width="0.8" fill="none"/>
<text x="263.60" y="211.30" font-size="14.0" textLength="3.9" lengthAdjust="spacingAndGlyphs">(</text>
<text x="268.20" y="211.30" font-size="14.0" textLength="26.3" lengthAdjust="spacingAndGlyphs">59.2</text>
<path d="M298.00,206.40 H307.20 M302.60,201.80 V211.00 M298.00,211.30 H307.20" stroke="#000" stroke-width="0.8" fill="none"/>
<text x="313.20" y="211.30" font-size="14.0" textLength="16.0" lengthAdjust="spacingAndGlyphs">0.0</text>
<text x="329.60" y="211.30" font-size="14.0" textLength="3.9" lengthAdjust="spacingAndGlyphs">)</text>
<text x="341.80" y="211.30" font-size="14.0" textLength="22.2" lengthAdjust="spacingAndGlyphs">MΩ</text>
<line x1="375.70" y1="207.75" x2="392.60" y2="207.75" stroke="#ff0000" stroke-width="1.1"/>
<path transform="translate(135.90,240.50) scale(1.0)" d="M0.0,-3.6 C0.8,-5.6 2.9,-6.6 3.9,-4.2 C4.7,-2.2 4.9,0.3 4.6,2.5 C4.5,0.8 4.7,-0.5 5.2,-1.8 C5.9,-3.4 6.6,-4.7 7.4,-5.6" fill="none" stroke="#000" stroke-width="0.9" stroke-linecap="round" stroke-linejoin="round"/>
<path d="M153.0,227.1 C147.00,233.01 147.00,240.89 153.0,246.8 C148.00,240.89 148.00,233.01 153.0,227.1 Z" fill="#000" stroke="#000" stroke-width="0.45" stroke-linejoin="round"/>
<line x1="155.80" y1="237.00" x2="170.90" y2="237.00" stroke="#000" stroke-width="0.75"/>
<text x="159.00" y="235.00" font-size="10.4" textLength="8.9" lengthAdjust="spacingAndGlyphs" class="i">H</text>
<text x="156.90" y="246.50" font-size="10.4" textLength="6.4" lengthAdjust="spacingAndGlyphs" class="i">L</text>
<text x="164.90" y="243.40" font-size="8.2" textLength="5.0" lengthAdjust="spacingAndGlyphs">2</text>
<line x1="177.80" y1="237.10" x2="186.20" y2="237.10" stroke="#000" stroke-width="0.85"/>
<line x1="192.10" y1="237.00" x2="235.00" y2="237.00" stroke="#000" stroke-width="0.75"/>
<text x="193.20" y="235.00" font-size="9.8" textLength="14.4" lengthAdjust="spacingAndGlyphs">1.2</text>
<path d="M210.50,231.60 H216.90 M213.70,228.40 V234.80 M210.50,235.10 H216.90" stroke="#000" stroke-width="0.7" fill="none"/>
<text x="218.80" y="235.00" font-size="9.8" textLength="15.8" lengthAdjust="spacingAndGlyphs">0.0</text>
<text x="210.60" y="246.50" font-size="10.4" textLength="6.4" lengthAdjust="spacingAndGlyphs" class="i">L</text>
<path d="M237.0,227.1 C243.13,233.01 243.13,240.89 237.0,246.8 C242.13,240.89 242.13,233.01 237.0,227.1 Z" fill="#000" stroke="#000" stroke-width="0.45" stroke-linejoin="round"/>
<path d="M249.60,237.00 H258.60 M254.10,232.50 V241.50" stroke="#000" stroke-width="0.8" fill="none"/>
<text x="263.60" y="241.00" font-size="14.0" textLength="3.9" lengthAdjust="spacingAndGlyphs">(</text>
<text x="268.20" y="241.00" font-size="14.0" textLength="26.3" lengthAdjust="spacingAndGlyphs">59.0</text>
<path d="M298.00,236.00 H307.20 M302.60,231.40 V240.60 M298.00,240.90 H307.20" stroke="#000" stroke-width="0.8" fill="none"/>
<text x="313.20" y="241.00" font-size="14.0" textLength="16.0" lengthAdjust="spacingAndGlyphs">0.0</text>
<text x="329.60" y="241.00" font-size="14.0" textLength="3.9" lengthAdjust="spacingAndGlyphs">)</text>
<text x="341.80" y="241.00" font-size="14.0" textLength="22.2" lengthAdjust="spacingAndGlyphs">MΩ</text>
<line x1="375.70" y1="236.00" x2="392.60" y2="236.00" stroke="#0000ff" stroke-width="1.1"/>
<text x="244.6" y="87.8" font-size="14.0" textLength="95.8" lengthAdjust="spacingAndGlyphs">Extrapolations:</text>
<path d="M347.3,85.3 H352.3 M357.1,85.3 H362" stroke="#4466ff" stroke-width="1" fill="none"/>
<line x1="367.9" y1="91" x2="373.2" y2="78" stroke="#000" stroke-width="0.8"/>
<path d="M375.5,85.6 H380 M383.3,85.6 H387.6" stroke="#ff4444" stroke-width="1" fill="none"/>
<text x="232.6" y="116.6" font-size="14.0" textLength="70.2" lengthAdjust="spacingAndGlyphs">Continuum</text>
<text x="309.3" y="116.6" font-size="14.0" textLength="46.9" lengthAdjust="spacingAndGlyphs">Results:</text>
<text x="364.6" y="116.6" font-size="14.0" textLength="7.6" lengthAdjust="spacingAndGlyphs">o</text>
<line x1="373.2" y1="119.4" x2="379.4" y2="105.8" stroke="#000" stroke-width="0.8"/>
<rect x="381.6" y="111.9" width="5.0" height="4.9" fill="none" stroke="#000" stroke-width="1.5"/>
<rect x="383.6" y="113.9" width="1" height="1" fill="#333"/>
</svg></body></html>
